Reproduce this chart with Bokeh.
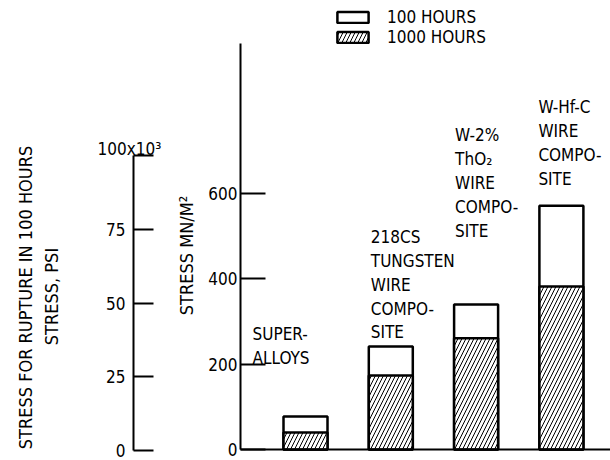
import math
from bokeh.plotting import figure
from bokeh.models import (Range1d, ColumnDataSource, FixedTicker, Legend, LegendItem,
                          Label, LinearAxis)
from bokeh.core.properties import value
from bokeh.embed import file_html
from bokeh.resources import INLINE

# ---------------- data ----------------
categories = [
    "SUPER-\nALLOYS",
    "218CS\nTUNGSTEN\nWIRE\nCOMPO-\nSITE",
    "W-2%\nThO\u2082\nWIRE\nCOMPO-\nSITE",
    "W-Hf-C\nWIRE\nCOMPO-\nSITE",
]
stress_100h = [77, 241, 339, 570]     # MN/m^2
stress_1000h = [40, 173, 260, 381]    # MN/m^2
series_names = ["100 HOURS", "1000 HOURS"]
mn_ticks = [0, 200, 400, 600]
psi_ticks = [0, 25, 50, 75, 100]      # x10^3 psi
psi_top_label = "100x10\u00b3"
mn_title = "STRESS MN/M\u00b2"
psi_title_1 = "STRESS FOR RUPTURE IN 100 HOURS"
psi_title_2 = "STRESS, PSI"

# ---------------- layout / style (pixels) ----------------
FONT = "DejaVu Sans Condensed"
W, H = 610, 460
PSI_AXIS_X = 133
MN_AXIS_X = 240
MN_ZERO_Y = 449
PSI_ZERO_Y = 450
MN_PX_PER_UNIT = 85.5 / 200
PSI_PX_PER_UNIT = 295 / 100
BAR0_X = 305
BAR_STEP = 85.3
BAR_W_PX = 44
label_dx = [-53, -20, -21, -23]       # px, text left edge relative to bar centre
label_gap = [53, 8, 68, 21]           # px, gap between text block and bar top


def px_x(px):
    return (px - BAR0_X) / BAR_STEP


def px_y(py):
    return (MN_ZERO_Y - py) / MN_PX_PER_UNIT


def px_psi(py):
    return (PSI_ZERO_Y - py) / PSI_PX_PER_UNIT


p = figure(width=W, height=H, x_range=Range1d(px_x(0), px_x(W)),
           y_range=Range1d(px_y(H), px_y(0)),
           output_backend="svg", toolbar_location=None,
           min_border=0, min_border_left=0, min_border_right=0,
           min_border_top=0, min_border_bottom=0)
p.extra_y_ranges = {"psi": Range1d(px_psi(H), px_psi(0))}
p.grid.visible = False
p.outline_line_color = None
p.background_fill_color = "white"

# baseline (x axis)
xa = p.xaxis[0]
xa.fixed_location = 0
xa.bounds = (px_x(MN_AXIS_X), px_x(W))
xa.ticker = FixedTicker(ticks=[])
xa.major_label_text_font_size = "0px"
xa.major_tick_in = 0
xa.major_tick_out = 0
xa.minor_tick_line_color = None
xa.axis_line_width = 2

# MN/m^2 axis
yb = p.yaxis[0]
yb.fixed_location = px_x(MN_AXIS_X)
yb.bounds = (0, 950)
yb.ticker = FixedTicker(ticks=mn_ticks)
yb.minor_tick_line_color = None
yb.major_tick_in = 25
yb.major_tick_out = 0
yb.major_tick_line_width = 2
yb.axis_line_width = 2
yb.major_label_standoff = 3
yb.major_label_text_font = FONT
yb.major_label_text_font_size = "17px"
yb.major_label_text_color = "black"

# psi axis
ya = LinearAxis(y_range_name="psi")
ya.fixed_location = px_x(PSI_AXIS_X)
ya.bounds = (psi_ticks[0], psi_ticks[-1])
ya.ticker = FixedTicker(ticks=psi_ticks)
ya.major_label_overrides = {psi_ticks[-1]: ""}
ya.minor_tick_line_color = None
ya.major_tick_in = 20
ya.major_tick_out = 0
ya.major_tick_line_width = 2
ya.axis_line_width = 2
ya.major_label_standoff = 8
ya.major_label_text_font = FONT
ya.major_label_text_font_size = "17px"
ya.major_label_text_color = "black"
p.add_layout(ya, "left")

# axis titles
def title_label(text, cx, cy, size="18px"):
    return Label(x=px_x(cx), y=px_y(cy), angle=math.pi / 2, text=text, text_font=FONT,
                 text_font_size=size, text_align="center", text_baseline="middle",
                 text_color="black")

p.add_layout(title_label(psi_title_1, 25, 297))
p.add_layout(title_label(psi_title_2, 51, 296))
p.add_layout(title_label(mn_title, 186, 255))
p.add_layout(Label(x=px_x(97), y=psi_ticks[-1], y_range_name="psi", y_offset=7,
                   text=psi_top_label, text_font=FONT, text_font_size="17px",
                   text_align="left", text_baseline="alphabetic", text_color="black"))

# bars
xs = list(range(len(categories)))
src = ColumnDataSource(dict(x=xs, h100=stress_100h, h1000=stress_1000h, label=categories,
                            dx=label_dx, dy=[-(g - 4) for g in label_gap]))
bw = BAR_W_PX / BAR_STEP
r100 = p.vbar(x="x", top="h100", width=bw, source=src, fill_color="white",
              line_color="black", line_width=2.5)
r1000 = p.vbar(x="x", top="h1000", width=bw, source=src, fill_color="white",
               line_color="black", line_width=2.5, hatch_pattern="/",
               hatch_color="black", hatch_scale=8, hatch_weight=1)

p.text(x="x", y="h100", text="label", x_offset="dx", y_offset="dy", source=src,
       text_font=value(FONT), text_font_size="17px", text_align="left",
       text_baseline="bottom", text_line_height=1.19, text_color="black")

legend = Legend(items=[LegendItem(label=series_names[0], renderers=[r100]),
                       LegendItem(label=series_names[1], renderers=[r1000])],
                location=(333, H - 47), orientation="vertical",
                glyph_width=39, glyph_height=14, label_height=14, spacing=-4,
                padding=0, margin=0, label_standoff=15, border_line_color=None,
                background_fill_alpha=0, label_text_font=FONT,
                label_text_font_size="17px", label_text_color="black")
p.add_layout(legend)

open("out.html", "w").write(file_html(p, INLINE))
